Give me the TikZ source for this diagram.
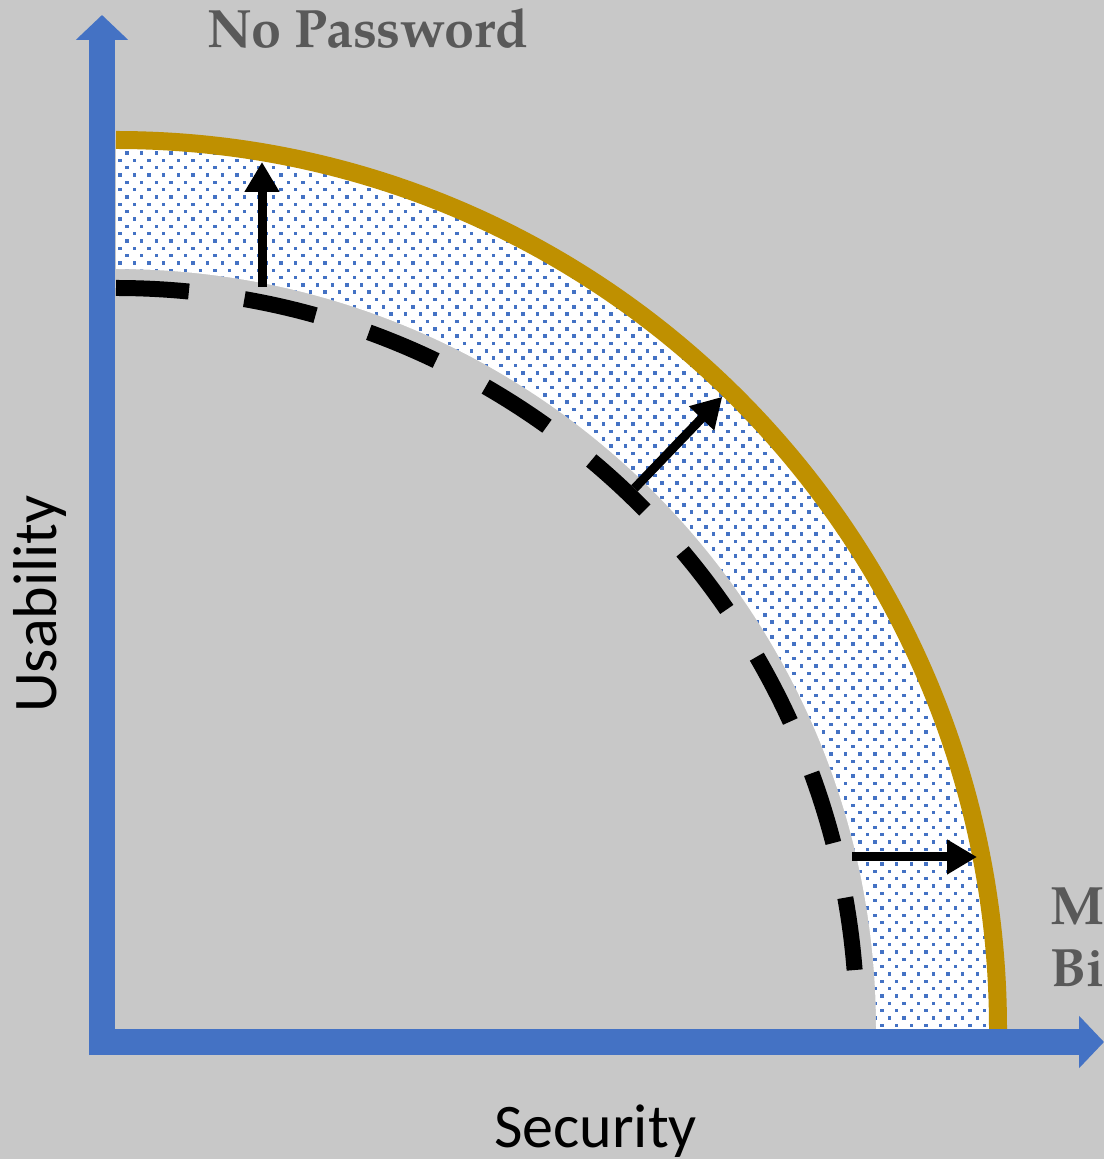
\documentclass[tikz,border=0pt]{standalone}
\usepackage{fontspec}
\setsansfont{Carlito}
\newfontfamily\palfont{TeX Gyre Pagella}
\usetikzlibrary{arrows.meta}
\definecolor{bg}{RGB}{200,200,200}
\definecolor{axisblue}{RGB}{68,114,196}
\definecolor{dotblue}{RGB}{68,114,196}
\definecolor{gold}{RGB}{191,144,0}
\definecolor{txtgrey}{RGB}{89,89,89}
\begin{document}
\begin{tikzpicture}[x=1pt,y=1pt,
  axisline/.style={line width=26pt, axisblue, -{Triangle[width=51pt,length=25pt]}},
  frontier/.style={line width=18pt, gold},
  oldfront/.style={line width=16pt, black, dash pattern=on 73pt off 56pt},
  shiftarrow/.style={line width=9pt, black, -{Triangle[width=33pt,length=30pt]}},
  labelsans/.style={font=\sffamily\fontsize{62}{70}\selectfont, text=black, inner sep=0pt},
  labelserif/.style={font=\palfont\bfseries\fontsize{54}{62}\selectfont, text=txtgrey, inner sep=0pt}]
\useasboundingbox (-116,-130) rectangle (988,1029);
\clip (-116,-130) rectangle (988,1029);
\fill[bg] (-116,-130) rectangle (988,1029);
% dotted band
\begin{scope}
  \fill[white] (760,0) -- (882,0) arc[start angle=0,end angle=90,x radius=882pt,y radius=889pt] -- (0,760) arc[start angle=90,end angle=0,radius=760pt] -- cycle;
  \clip (760,0) -- (882,0) arc[start angle=0,end angle=90,x radius=882pt,y radius=889pt] -- (0,760) arc[start angle=90,end angle=0,radius=760pt] -- cycle;
  \foreach \j in {0,...,122}{
    \pgfmathsetmacro\yy{2+\j*7.33}
    \pgfmathsetmacro\xo{2+mod(\j,2)*7.33}
    \pgfmathsetmacro\ra{max(0,7.55*7.55-(\yy/100)*(\yy/100))}
    \pgfmathtruncatemacro\ia{max(0,(100*sqrt(\ra)-\xo)/14.66-1)}
    \pgfmathsetmacro\rb{max(0,8.92*8.92-(\yy/100)*(\yy/100))}
    \pgfmathtruncatemacro\ib{(100*sqrt(\rb)-\xo)/14.66+1}
    \foreach \i in {\ia,...,\ib}{\fill[dotblue] (\xo+\i*14.66,\yy) rectangle ++(3.5,3.5);}
  }
\end{scope}
% old (dashed) frontier
\draw[oldfront] (0,741) arc[start angle=90,end angle=4.5,radius=741pt];
% new frontier
\draw[frontier] (0,889) arc[start angle=90,end angle=0,x radius=882pt,y radius=889pt];
% shift arrows
\coordinate (a1s) at (146,742);
\coordinate (a1e) at (146,867);
\coordinate (a2s) at (46.2:749);
\coordinate (a2e) at (46.2:876);
\coordinate (a3s) at (736,172);
\coordinate (a3e) at (861,172);
\draw[shiftarrow] (a1s) -- (a1e);
\draw[shiftarrow] (a2s) -- (a2e);
\draw[shiftarrow] (a3s) -- (a3e);
% axes
\coordinate (ybot) at (-14,-26);
\coordinate (ytop) at (-14,1014);
\coordinate (xleft) at (-27,-13);
\coordinate (xright) at (988,-13);
\draw[axisline] (ybot) -- (ytop);
\draw[axisline] (xleft) -- (xright);
% labels
\node[labelserif, anchor=base west] (np) at (91,981) {No Password};
\node[labelserif, anchor=base west] (mfa) at (934,104) {Multi-Factor};
\node[labelserif, anchor=base west] (bio) at (934,42) {Biometrics};
\node[labelsans, rotate=90, anchor=base] (usab) at (-59,425) {Usability};
\node[labelsans, anchor=base] (sec) at (479.5,-118) {Security};
\end{tikzpicture}
\end{document}
